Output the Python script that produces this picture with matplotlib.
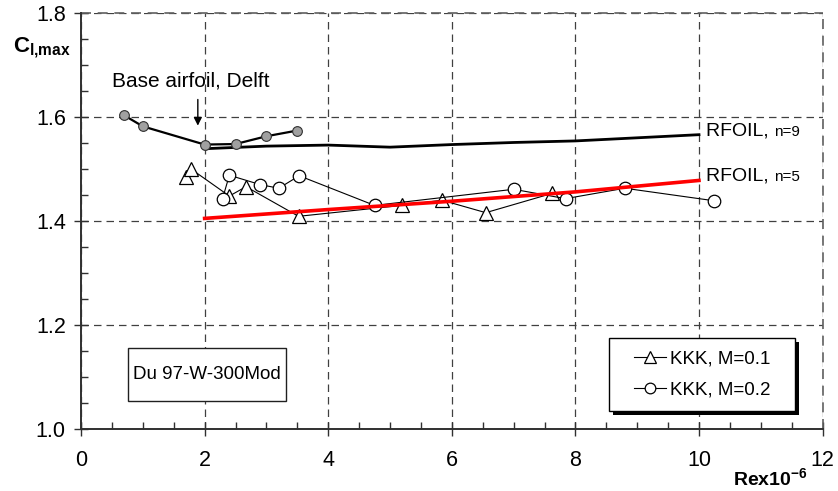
import matplotlib
matplotlib.use('Agg')
import matplotlib.pyplot as plt
from matplotlib.patches import Rectangle

plt.rcParams['font.family'] = ['Liberation Sans', 'DejaVu Sans']
plt.rcParams['mathtext.fontset'] = 'custom'
plt.rcParams['mathtext.rm'] = 'Liberation Sans'
plt.rcParams['mathtext.bf'] = 'Liberation Sans:bold'

# base airfoil measurements, Delft
delft_re = [0.70, 1.00, 2.00, 2.50, 3.00, 3.50]
delft_cl = [1.603, 1.582, 1.547, 1.548, 1.563, 1.574]

# RFOIL predictions
rf9_re = [2, 3, 4, 5, 6, 7, 8, 9, 10]
rf9_cl = [1.539, 1.544, 1.546, 1.542, 1.547, 1.551, 1.554, 1.560, 1.566]
rf5_re = [2, 4, 6, 8, 10]
rf5_cl = [1.405, 1.422, 1.438, 1.456, 1.478]

# KKK measurements
kkk1_re = [1.70, 1.78, 2.40, 2.67, 3.52, 5.19, 5.84, 6.55, 7.62]
kkk1_cl = [1.485, 1.500, 1.448, 1.466, 1.409, 1.430, 1.440, 1.416, 1.453]
kkk2_re = [2.29, 2.40, 2.90, 3.20, 3.53, 4.75, 7.00, 7.84, 8.80, 10.24]
kkk2_cl = [1.443, 1.488, 1.470, 1.463, 1.487, 1.430, 1.461, 1.443, 1.463, 1.439]

fig = plt.figure(figsize=(8.38, 4.91), dpi=100)
ax = fig.add_axes([0.0967, 0.1263, 0.8849, 0.8472])

ax.plot(rf9_re, rf9_cl, color='black', lw=2.0, zorder=3)
ax.plot(rf5_re, rf5_cl, color='#ff0000', lw=2.6, zorder=3)
ax.plot(delft_re, delft_cl, color='black', lw=1.6, marker='o', ms=7,
        mfc='#a0a0a0', mec='#303030', mew=0.8, zorder=4)
l1, = ax.plot(kkk1_re, kkk1_cl, color='black', lw=0.8, marker='^', ms=9.5,
              mfc='white', mec='black', mew=0.9, label='KKK, M=0.1', zorder=2)
l2, = ax.plot(kkk2_re, kkk2_cl, color='black', lw=0.8, marker='o', ms=9,
              mfc='white', mec='black', mew=0.9, label='KKK, M=0.2', zorder=2)

ax.set_xlim(0, 12)
ax.set_ylim(1.0, 1.8)
ax.set_xticks(range(0, 13, 2))
ax.set_yticks([1.0, 1.2, 1.4, 1.6, 1.8])
ax.set_yticklabels(['%.1f' % v for v in [1.0, 1.2, 1.4, 1.6, 1.8]])
ax.set_xticks([v * 0.5 for v in range(25)], minor=True)
ax.set_yticks([1.0 + v * 0.05 for v in range(17)], minor=True)
ax.tick_params(which='major', direction='inout', length=10, width=1,
               labelsize=15.5, color='#303030')
ax.tick_params(which='minor', direction='in', length=5, width=1, color='#303030')
ax.tick_params(axis='x', pad=10)
ax.tick_params(axis='y', pad=6)

ax.grid(True, which='major', color='#404040', ls=(0, (6, 4)), lw=0.9)
for s in ['top', 'right']:
    ax.spines[s].set_visible(False)
for s in ['left', 'bottom']:
    ax.spines[s].set_color('#303030')
    ax.spines[s].set_linewidth(1.4)
ax.axhline(1.8, color='#606060', ls=(0, (6, 4)), lw=1.2, clip_on=False)
ax.axvline(12, color='#606060', ls=(0, (6, 4)), lw=1.2, clip_on=False)

# axis labels
ax.text(-0.092, 0.918, r'$\mathbf{C_{l{,}max}}$', transform=ax.transAxes,
        fontsize=16, ha='left', va='center')
ax.text(0.929, -0.118, r'$\mathbf{Rex10^{-6}}$', transform=ax.transAxes,
        fontsize=14, ha='center', va='center')

# annotations
ax.text(1.78, 1.670, 'Base airfoil, Delft', fontsize=15, ha='center', va='center')
ax.annotate('', xy=(1.89, 1.578), xytext=(1.89, 1.639),
            arrowprops=dict(arrowstyle='-|>', color='black', lw=1.0,
                            mutation_scale=12))
for y, n in [(1.574, 'n=9'), (1.4875, 'n=5')]:
    t = ax.text(10.11, y, 'RFOIL, ', fontsize=14, ha='left', va='center')
    ax.annotate(n, xy=(1, 0), xycoords=t, xytext=(0, 0), textcoords='offset points',
                fontsize=11, ha='left', va='bottom')

# airfoil name box
ax.add_patch(Rectangle((0.063, 0.0666), 0.213, 0.1274, transform=ax.transAxes,
                       facecolor='white', edgecolor='#202020', lw=1.0, zorder=5))
ax.text(0.1695, 0.1303, 'Du 97-W-300Mod', transform=ax.transAxes, fontsize=13.5,
        ha='center', va='center', zorder=6)

# legend box with hard shadow
bx, by, bw, bh = 0.712, 0.043, 0.251, 0.176
dx, dy = 4 / 741.6, 4 / 416
ax.add_patch(Rectangle((bx + dx, by - dy), bw, bh, transform=ax.transAxes,
                       facecolor='black', edgecolor='black', lw=0, zorder=5))
ax.add_patch(Rectangle((bx, by), bw, bh, transform=ax.transAxes,
                       facecolor='white', edgecolor='black', lw=1.0, zorder=6))
leg = ax.legend(handles=[l1, l2], loc='center',
                bbox_to_anchor=(bx + bw / 2, by + bh / 2), fontsize=13.5,
                frameon=False, handlelength=1.7, handletextpad=0.2,
                labelspacing=0.75, markerscale=0.85, borderaxespad=0)
leg.set_zorder(7)

fig.savefig('out.png', dpi=100)
